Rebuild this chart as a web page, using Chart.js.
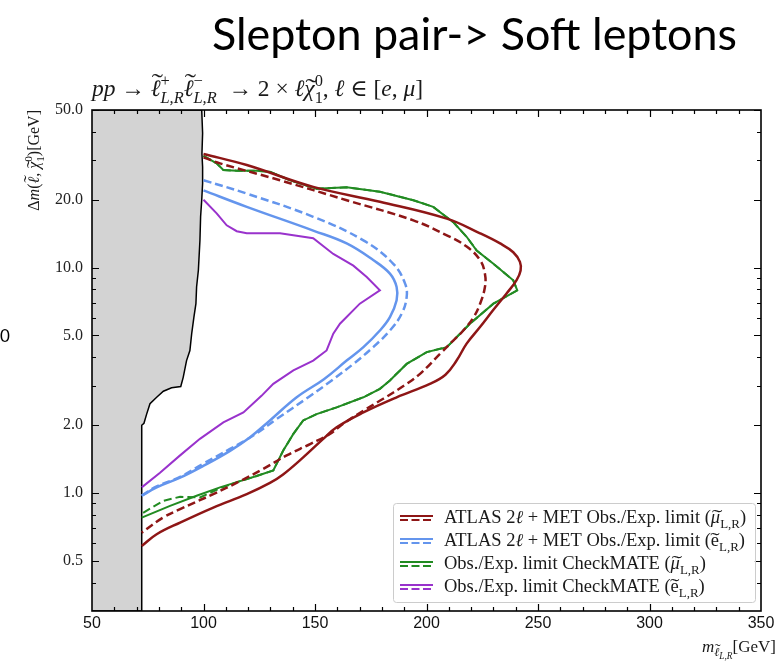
<!DOCTYPE html>
<html>
<head>
<meta charset="utf-8">
<title>Slepton pair -> Soft leptons</title>
<script src="https://cdn.jsdelivr.net/npm/chart.js@4"></script>
<style>
  html, body { margin: 0; padding: 0; background: #fff; }
  #chart { display: block; }
</style>
</head>
<body>
<canvas id="chart" width="781" height="663"></canvas>
<script>
// Limit contours in the (m_slepton, delta m) plane, points as [mass GeV, delta m GeV]
const atlasMuObs = [
    [100, 31.9], [119.4, 28.5], [149.2, 22.8], [179.1, 19.6], [209.1, 16.5], [224.0, 14.2],
    [233.0, 12.8], [238.9, 11.7], [241.9, 10.6], [242.2, 9.7], [240.4, 8.8], [236.0, 7.7],
    [230.0, 6.5], [224.0, 5.45], [218.0, 4.6], [213.5, 3.87], [208.5, 3.35], [201.5, 3.05],
    [186.6, 2.66], [171.7, 2.28], [159.7, 1.96], [153.7, 1.74], [144.7, 1.44], [135.7, 1.21],
    [129.8, 1.11], [119.4, 0.99], [104.4, 0.863], [89.5, 0.74], [79.0, 0.657], [72.3, 0.583]
];
const atlasMuExp = [
    [100, 30.8], [107.4, 29.0], [134.3, 24.4], [164.2, 19.9], [194.1, 16.2], [209.1, 13.9],
    [218.0, 12.4], [224.0, 10.8], [226.2, 9.4], [226.2, 8.2], [224.0, 6.9], [221.0, 6.0],
    [216.5, 5.26], [212.0, 4.75], [206.1, 4.15], [197.1, 3.38], [190.0, 3.0], [180.6, 2.62],
    [171.7, 2.32], [162.7, 2.03], [156.7, 1.83], [147.8, 1.65], [137.3, 1.47], [126.8, 1.28],
    [116.4, 1.13], [104.4, 0.99], [89.5, 0.849], [82.0, 0.78], [72.3, 0.668]
];
const atlasEObs = [
    [100, 22.0], [119.4, 18.6], [149.2, 14.6], [164.2, 12.8], [176.1, 10.8], [183.6, 9.4],
    [186.6, 8.2], [186.6, 7.16], [183.6, 6.03], [179.1, 5.26], [171.7, 4.44], [164.2, 3.87],
    [154.0, 3.2], [141.8, 2.66], [129.8, 2.10], [120.9, 1.77], [111.9, 1.54], [99.9, 1.32],
    [89.5, 1.17], [79.0, 1.06], [72.3, 0.973]
];
const atlasEExp = [
    [100, 24.4], [119.4, 21.3], [149.2, 16.8], [171.7, 13.2], [185.1, 10.4], [190.4, 8.49],
    [191.1, 7.40], [188.9, 6.25], [183.6, 5.26], [176.1, 4.44], [167.2, 3.74], [157.5, 3.16],
    [147.0, 2.66], [132.8, 2.13], [122.3, 1.80], [111.9, 1.57], [99.9, 1.35], [89.5, 1.18],
    [79.0, 1.07], [72.3, 0.975]
];
const checkmateMuObs = [
    [100, 31.3], [105.9, 29.0], [108.9, 27.1], [114.9, 26.9], [123.8, 26.9], [129.8, 26.6],
    [138.8, 24.4], [150.7, 22.4], [164.2, 22.7], [179.1, 21.7], [194.1, 19.9], [203.0, 18.6],
    [212.0, 15.9], [218.0, 13.7], [222.5, 11.9], [230.0, 10.4], [238.9, 8.78], [240.7, 7.93],
    [230.0, 6.92], [219.5, 5.64], [209.1, 4.44], [200.1, 4.22], [191.1, 3.74], [183.6, 3.16],
    [179.1, 2.90], [171.7, 2.66], [159.7, 2.40], [150.7, 2.24], [144.7, 2.10], [140.3, 1.83],
    [135.7, 1.54], [131.3, 1.26], [123.8, 1.19], [116.4, 1.13], [107.4, 1.06], [96.9, 0.973],
    [85.0, 0.878], [72.3, 0.779]
];
const checkmateMuExp = [
    [100, 31.3], [105.9, 29.0], [108.9, 27.1], [114.9, 26.9], [123.8, 26.9], [129.8, 26.6],
    [138.8, 24.4], [150.7, 22.4], [164.2, 22.7], [179.1, 21.7], [194.1, 19.9], [203.0, 18.6],
    [212.0, 15.9], [218.0, 13.7], [222.5, 11.9], [230.0, 10.4], [238.9, 8.78], [240.7, 7.93],
    [230.0, 6.92], [219.5, 5.64], [209.1, 4.44], [200.1, 4.22], [191.1, 3.74], [183.6, 3.16],
    [179.1, 2.90], [171.7, 2.66], [159.7, 2.40], [150.7, 2.24], [144.7, 2.10], [140.3, 1.83],
    [135.7, 1.54], [131.3, 1.26], [123.8, 1.19], [116.4, 1.13], [107.4, 1.05], [98.4, 0.956],
    [89.5, 0.963], [82.0, 0.924], [72.3, 0.811]
];
const checkmateEObs = [
    [100, 20.0], [105.9, 17.4], [110.4, 15.4], [114.9, 14.5], [119.4, 14.2], [134.3, 14.2],
    [149.2, 13.5], [158.2, 11.5], [167.2, 10.2], [173.2, 9.08], [179.1, 7.93], [170.1, 6.92],
    [161.2, 5.64], [158.2, 5.09], [155.2, 4.29], [149.2, 3.87], [140.3, 3.50], [131.3, 3.05],
    [126.0, 2.70], [117.9, 2.28], [108.9, 2.06], [98.4, 1.74], [89.5, 1.47], [80.5, 1.23],
    [72.3, 1.06]
];
// kinematically excluded region (grey), closed along the left edge
const excludedRegion = [
    [50, 0.3], [72.3, 0.3], [72.3, 2.0], [73.3, 2.04], [74.5, 2.24], [76.0, 2.49], [79.0, 2.66],
    [82.0, 2.83], [85.7, 2.93], [89.8, 2.97], [90.9, 3.26], [92.4, 3.87], [93.9, 4.29],
    [94.7, 5.09], [95.7, 6.03], [96.6, 6.92], [96.9, 8.2], [97.7, 9.73], [98.4, 13.2],
    [98.7, 16.8], [99.2, 19.9], [99.6, 23.6], [99.6, 28.0], [99.3, 32.0], [99.6, 39.4],
    [99.2, 50], [50, 50]
];

const xTickLabels = [50, 100, 150, 200, 250, 300, 350];
const yTickLabels = [0.5, 1, 2, 5, 10, 20, 50];
const yMinorTicks = [0.4, 0.6, 0.7, 0.8, 0.9, 3, 4, 6, 7, 8, 9, 30, 40];

const DARKRED = '#8e1616';
const BLUE = '#6495ed';
const GREEN = '#228b22';
const PURPLE = '#9932cc';
const MATH_FONT = '"Liberation Serif", "DejaVu Serif", serif';

// rich text runs: t = text, it = italic, s = size factor, dy = shift in em,
// hold = no advance, tilde = accent above (raise = extra lift in em)
const titleText = 'Slepton pair-> Soft leptons';
const subtitleRuns = [
    {t: 'pp', it: true}, {t: ' → '},
    {t: 'ℓ', it: true, tilde: true, raise: 0.24}, {t: '+', s: 0.7, dy: -0.42, hold: true}, {t: 'L,R', it: true, s: 0.7, dy: 0.3},
    {t: 'ℓ', it: true, tilde: true, raise: 0.24}, {t: '−', s: 0.7, dy: -0.42, hold: true}, {t: 'L,R', it: true, s: 0.7, dy: 0.3},
    {t: '  → 2 × '}, {t: 'ℓ', it: true}, {t: 'χ', it: true, tilde: true, raise: 0.04},
    {t: '0', s: 0.7, dy: -0.42, hold: true}, {t: '1', s: 0.7, dy: 0.3},
    {t: ', '}, {t: 'ℓ', it: true}, {t: ' ∈ ['}, {t: 'e', it: true}, {t: ', '}, {t: 'μ', it: true}, {t: ']'}
];
const yTitleRuns = [
    {t: 'Δ'}, {t: 'm', it: true}, {t: '('}, {t: 'ℓ', it: true, tilde: true, raise: 0.24}, {t: ', '},
    {t: 'χ', it: true, tilde: true, raise: 0.04},
    {t: '0', s: 0.7, dy: -0.42, hold: true}, {t: '1', s: 0.7, dy: 0.3}, {t: ')[GeV]'}
];
const xTitleRuns = [
    {t: 'm', it: true}, {t: 'ℓ', it: true, s: 0.72, dy: 0.25, tilde: true, raise: 0.24},
    {t: 'L,R', it: true, s: 0.55, dy: 0.42}, {t: '[GeV]'}
];
const legendRuns = [
    [{t: 'ATLAS 2'}, {t: 'ℓ', it: true}, {t: ' + MET Obs./Exp. limit ('}, {t: 'μ', it: true, tilde: true},
     {t: 'L,R', s: 0.7, dy: 0.25}, {t: ')'}],
    [{t: 'ATLAS 2'}, {t: 'ℓ', it: true}, {t: ' + MET Obs./Exp. limit ('}, {t: 'e', tilde: true},
     {t: 'L,R', s: 0.7, dy: 0.25}, {t: ')'}],
    [{t: 'Obs./Exp. limit CheckMATE ('}, {t: 'μ', it: true, tilde: true}, {t: 'L,R', s: 0.7, dy: 0.25}, {t: ')'}],
    [{t: 'Obs./Exp. limit CheckMATE ('}, {t: 'e', tilde: true}, {t: 'L,R', s: 0.7, dy: 0.25}, {t: ')'}]
];
const legendColors = [DARKRED, BLUE, GREEN, PURPLE];

function toPoints(pairs) {
    return pairs.map(([x, y]) => ({x, y}));
}

function contour(pairs, color, dashed, width, tension) {
    return {
        data: toPoints(pairs),
        borderColor: color,
        borderWidth: width,
        borderDash: dashed ? [8, 4] : [],
        tension: tension,
        pointRadius: 0,
        fill: false
    };
}

// tilde accent centred over a glyph of width w, stretched to the glyph width
function drawTilde(ctx, cx, y, w, s, raise, italic) {
    ctx.save();
    ctx.font = s.toFixed(2) + 'px ' + MATH_FONT;
    const tw = ctx.measureText('˜').width;
    const k = Math.max(1, w * 1.15 / tw);
    ctx.translate(cx + w / 2 + (italic ? s * 0.08 : 0), y - raise * s);
    ctx.scale(k, 1);
    ctx.textAlign = 'center';
    ctx.fillText('˜', 0, 0);
    ctx.restore();
}

function richText(ctx, runs, size, x, y, draw) {
    let cx = x;
    for (const r of runs) {
        const s = size * (r.s || 1);
        ctx.font = (r.it ? 'italic ' : '') + s.toFixed(2) + 'px ' + MATH_FONT;
        const w = ctx.measureText(r.t).width;
        const by = y + (r.dy || 0) * size;
        if (draw) {
            ctx.fillText(r.t, cx, by);
            if (r.tilde) drawTilde(ctx, cx, by, w, s, r.raise || 0, r.it);
        }
        if (!r.hold) cx += w;
    }
    return cx - x;
}

// size so that the runs span the given width
function fitSize(ctx, runs, width) {
    return 16 * width / richText(ctx, runs, 16, 0, 0, false);
}

const decorations = {
    id: 'decorations',
    afterDatasetsDraw(chart) {
        const {ctx, chartArea: a, scales: {x, y}} = chart;
        ctx.save();

        // tick marks pointing inwards on all four sides
        ctx.strokeStyle = '#000';
        ctx.lineWidth = 1.2;
        ctx.beginPath();
        for (let v = 60; v < 350; v += 10) {
            const len = v % 50 === 0 ? 7 : 4;
            const px = Math.round(x.getPixelForValue(v)) + 0.5;
            ctx.moveTo(px, a.bottom); ctx.lineTo(px, a.bottom - len);
            ctx.moveTo(px, a.top); ctx.lineTo(px, a.top + len);
        }
        const yMarks = yTickLabels.map(v => [v, 7]).concat(yMinorTicks.map(v => [v, 4]));
        for (const [v, len] of yMarks) {
            const py = Math.round(y.getPixelForValue(v)) + 0.5;
            ctx.moveTo(a.left, py); ctx.lineTo(a.left + len, py);
            ctx.moveTo(a.right, py); ctx.lineTo(a.right - len, py);
        }
        ctx.stroke();

        // frame
        ctx.lineWidth = 1.6;
        ctx.strokeRect(a.left, a.top, a.right - a.left, a.bottom - a.top);

        // legend
        const lx = a.left + 301, ly = a.top + 393, lw = 362, lh = 99;
        ctx.fillStyle = 'rgba(255,255,255,0.85)';
        ctx.strokeStyle = '#cccccc';
        ctx.lineWidth = 1;
        ctx.beginPath();
        ctx.roundRect(lx + 0.5, ly + 0.5, lw, lh, 3);
        ctx.fill();
        ctx.stroke();

        const legendSize = fitSize(ctx, legendRuns[0], 302);
        legendRuns.forEach((runs, i) => {
            const cy = ly + 15 + i * 23;
            ctx.strokeStyle = legendColors[i];
            ctx.lineWidth = 2;
            ctx.setLineDash([]);
            ctx.beginPath(); ctx.moveTo(lx + 7, cy - 2); ctx.lineTo(lx + 40, cy - 2); ctx.stroke();
            ctx.setLineDash([8, 3.5]);
            ctx.beginPath(); ctx.moveTo(lx + 7, cy + 2); ctx.lineTo(lx + 40, cy + 2); ctx.stroke();
            ctx.setLineDash([]);
            ctx.fillStyle = '#1a1a1a';
            ctx.textBaseline = 'alphabetic';
            richText(ctx, runs, legendSize, lx + 51, cy + 5, true);
        });
        ctx.restore();
    },
    afterDraw(chart) {
        const {ctx, chartArea: a} = chart;
        ctx.save();
        ctx.fillStyle = '#000';
        ctx.textBaseline = 'alphabetic';

        // slide title, squeezed to its span
        ctx.font = '44px Lato, "Open Sans", sans-serif';
        const tw = ctx.measureText(titleText).width;
        ctx.save();
        ctx.translate(212, 50);
        ctx.scale(525 / tw, 1);
        ctx.fillText(titleText, 0, 0);
        ctx.restore();

        // stray digit left on the slide
        ctx.font = '17px Lato, "Open Sans", sans-serif';
        ctx.fillText('0', 0, 342);

        ctx.fillStyle = '#1a1a1a';
        // process line above the frame
        richText(ctx, subtitleRuns, fitSize(ctx, subtitleRuns, 331), 92, 96, true);

        // y axis title, rotated, top end level with the frame
        const ySize = 16;
        const yLen = richText(ctx, yTitleRuns, ySize, 0, 0, false);
        ctx.save();
        ctx.translate(39, a.top + yLen);
        ctx.rotate(-Math.PI / 2);
        richText(ctx, yTitleRuns, ySize, 0, 0, true);
        ctx.restore();

        // x axis title, right aligned
        const xw = richText(ctx, xTitleRuns, 17, 0, 0, false);
        richText(ctx, xTitleRuns, 17, 776 - xw, 652, true);
        ctx.restore();
    }
};

document.addEventListener('DOMContentLoaded', () => {
    const ctx = document.getElementById('chart').getContext('2d');
    new Chart(ctx, {
        type: 'line',
        data: {
            datasets: [
                contour(atlasMuObs, DARKRED, false, 2.5, 0.4),
                contour(atlasMuExp, DARKRED, true, 2.5, 0.4),
                contour(checkmateMuObs, GREEN, false, 2, 0),
                contour(checkmateMuExp, GREEN, true, 2, 0),
                contour(atlasEObs, BLUE, false, 2.5, 0.4),
                contour(atlasEExp, BLUE, true, 2.5, 0.4),
                contour(checkmateEObs, PURPLE, false, 2, 0),
                {
                    data: toPoints(excludedRegion),
                    borderColor: '#000',
                    borderWidth: 1.5,
                    backgroundColor: '#d3d3d3',
                    fill: 'shape',
                    tension: 0,
                    pointRadius: 0
                }
            ]
        },
        options: {
            responsive: false,
            animation: false,
            events: [],
            layout: {padding: {top: 110, right: 20, left: 0, bottom: 0}},
            plugins: {
                legend: {display: false},
                tooltip: {enabled: false}
            },
            scales: {
                x: {
                    type: 'linear',
                    min: 50,
                    max: 350,
                    grid: {display: false, drawTicks: false},
                    border: {display: false},
                    afterBuildTicks: (scale) => { scale.ticks = xTickLabels.map(v => ({value: v})); },
                    afterFit: (scale) => { scale.height = 52; },
                    ticks: {
                        padding: 3,
                        maxRotation: 0,
                        color: '#111',
                        font: {family: '"Liberation Sans", Arial, sans-serif', size: 16},
                        callback: (v) => String(v)
                    }
                },
                y: {
                    type: 'logarithmic',
                    min: 0.3,
                    max: 50,
                    grid: {display: false, drawTicks: false},
                    border: {display: false},
                    afterBuildTicks: (scale) => { scale.ticks = yTickLabels.map(v => ({value: v})); },
                    afterFit: (scale) => { scale.width = 92; },
                    ticks: {
                        padding: 9,
                        color: '#222',
                        font: {family: MATH_FONT, size: 16},
                        callback: (v) => Number(v).toFixed(1)
                    }
                }
            }
        },
        plugins: [decorations]
    });
});
</script>
</body>
</html>
